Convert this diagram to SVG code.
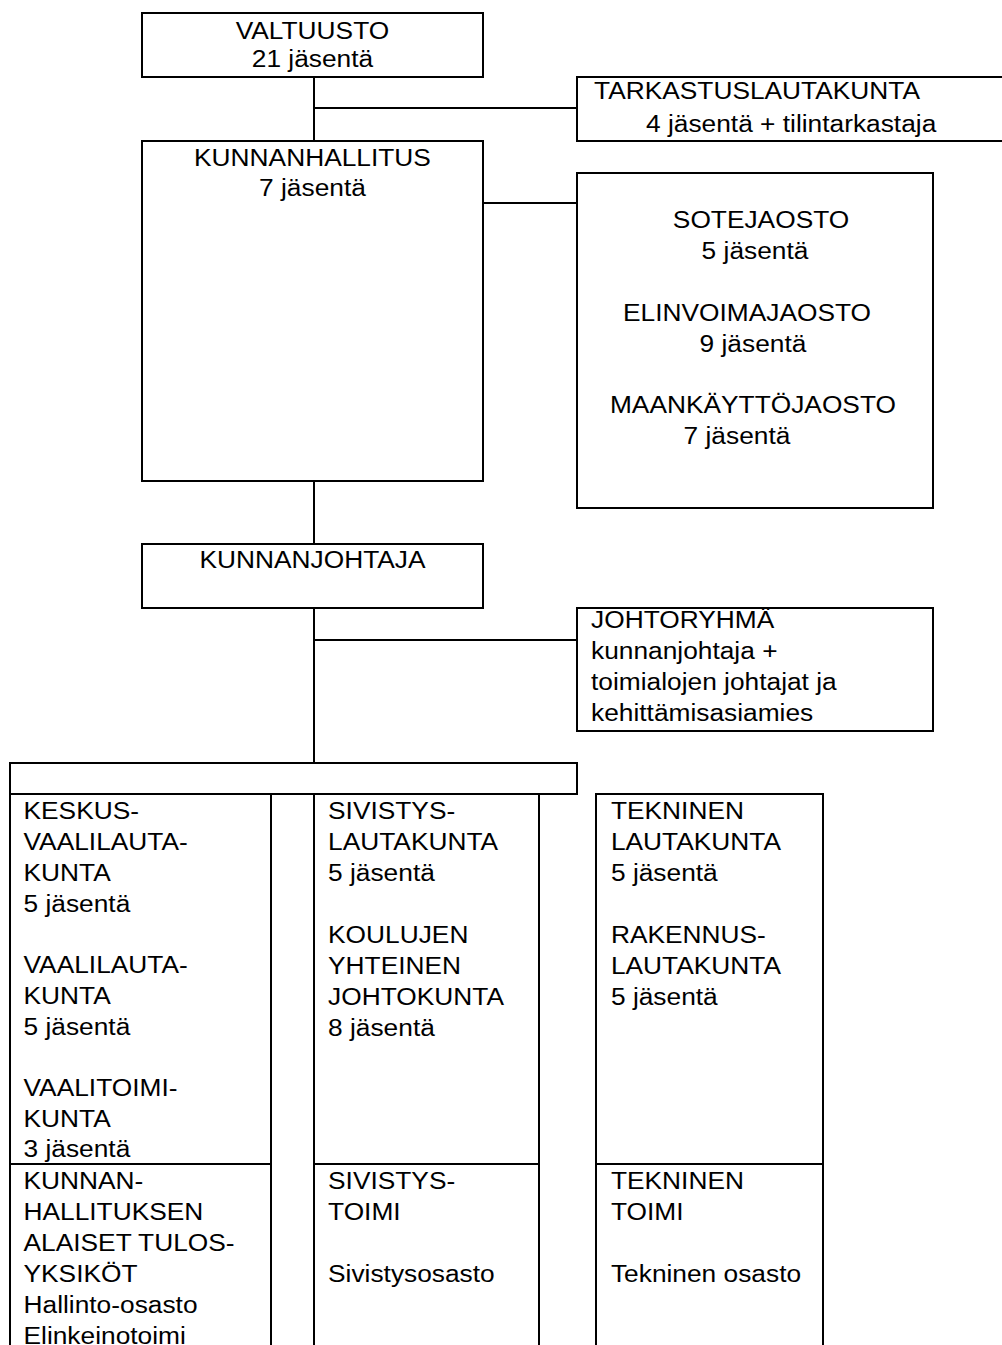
<svg xmlns="http://www.w3.org/2000/svg" width="1002" height="1345" viewBox="0 0 1002 1345">
<style>
.box{fill:#fff;stroke:#000;stroke-width:2}
.ln{fill:none;stroke:#000;stroke-width:2}
text{font-family:"Liberation Sans",Arial,sans-serif;font-size:23.5px;fill:#000}
.c{text-anchor:middle}
</style>
<rect width="1002" height="1345" fill="#fff"/>
<g id="connectors" class="ln">
<path d="M314 77V141M314 108H577M483 203H577M314 481V544M314 608V794M314 640H577"/>
</g>
<g id="valtuusto">
<rect class="box" x="142" y="13" width="341" height="64"/>
<g transform="scale(1.12 1)">
<text class="c" x="279" y="39">VALTUUSTO</text>
<text class="c" x="279" y="67">21 jäsentä</text>
</g>
</g>
<g id="tarkastuslautakunta">
<rect class="box" x="577" y="77" width="430" height="64"/>
<g transform="scale(1.12 1)">
<text x="530.4" y="99">TARKASTUSLAUTAKUNTA</text>
<text x="576.8" y="132">4 jäsentä + tilintarkastaja</text>
</g>
</g>
<g id="kunnanhallitus">
<rect class="box" x="142" y="141" width="341" height="340"/>
<g transform="scale(1.12 1)">
<text class="c" x="279" y="166">KUNNANHALLITUS</text>
<text class="c" x="279" y="196">7 jäsentä</text>
</g>
</g>
<g id="jaostot">
<rect class="box" x="577" y="173" width="356" height="335"/>
<g transform="scale(1.12 1)">
<text class="c" x="679.5" y="228">SOTEJAOSTO</text>
<text class="c" x="674.1" y="259">5 jäsentä</text>
<text class="c" x="667" y="321">ELINVOIMAJAOSTO</text>
<text class="c" x="672.3" y="352">9 jäsentä</text>
<text class="c" x="672.3" y="413">MAANKÄYTTÖJAOSTO</text>
<text class="c" x="658" y="444">7 jäsentä</text>
</g>
</g>
<g id="kunnanjohtaja">
<rect class="box" x="142" y="544" width="341" height="64"/>
<g transform="scale(1.12 1)">
<text class="c" x="279" y="568">KUNNANJOHTAJA</text>
</g>
</g>
<g id="johtoryhma">
<rect class="box" x="577" y="608" width="356" height="123"/>
<g transform="scale(1.12 1)">
<text x="527.7" y="628">JOHTORYHMÄ</text>
<text x="527.7" y="659">kunnanjohtaja +</text>
<text x="527.7" y="690">toimialojen johtajat ja</text>
<text x="527.7" y="721">kehittämisasiamies</text>
</g>
</g>
<g id="palkki">
<rect class="box" x="10" y="763" width="567" height="31"/>
</g>
<g id="vaalit">
<rect class="box" x="10" y="794" width="261" height="600"/>
<path class="ln" d="M10 1164H271"/>
<g transform="scale(1.12 1)">
<text x="21" y="819">KESKUS-</text>
<text x="21" y="850">VAALILAUTA-</text>
<text x="21" y="881">KUNTA</text>
<text x="21" y="912">5 jäsentä</text>
<text x="21" y="973">VAALILAUTA-</text>
<text x="21" y="1004">KUNTA</text>
<text x="21" y="1035">5 jäsentä</text>
<text x="21" y="1096">VAALITOIMI-</text>
<text x="21" y="1127">KUNTA</text>
<text x="21" y="1157">3 jäsentä</text>
<text x="21" y="1189">KUNNAN-</text>
<text x="21" y="1220">HALLITUKSEN</text>
<text x="21" y="1251">ALAISET TULOS-</text>
<text x="21" y="1282">YKSIKÖT</text>
<text x="21" y="1313">Hallinto-osasto</text>
<text x="21" y="1344">Elinkeinotoimi</text>
</g>
</g>
<g id="sivistys">
<rect class="box" x="314" y="794" width="225" height="600"/>
<path class="ln" d="M314 1164H539"/>
<g transform="scale(1.12 1)">
<text x="292.9" y="819">SIVISTYS-</text>
<text x="292.9" y="850">LAUTAKUNTA</text>
<text x="292.9" y="881">5 jäsentä</text>
<text x="292.9" y="943">KOULUJEN</text>
<text x="292.9" y="974">YHTEINEN</text>
<text x="292.9" y="1005">JOHTOKUNTA</text>
<text x="292.9" y="1036">8 jäsentä</text>
<text x="292.9" y="1189">SIVISTYS-</text>
<text x="292.9" y="1220">TOIMI</text>
<text x="292.9" y="1282">Sivistysosasto</text>
</g>
</g>
<g id="tekninen">
<rect class="box" x="596" y="794" width="227" height="600"/>
<path class="ln" d="M596 1164H823"/>
<g transform="scale(1.12 1)">
<text x="545.5" y="819">TEKNINEN</text>
<text x="545.5" y="850">LAUTAKUNTA</text>
<text x="545.5" y="881">5 jäsentä</text>
<text x="545.5" y="943">RAKENNUS-</text>
<text x="545.5" y="974">LAUTAKUNTA</text>
<text x="545.5" y="1005">5 jäsentä</text>
<text x="545.5" y="1189">TEKNINEN</text>
<text x="545.5" y="1220">TOIMI</text>
<text x="545.5" y="1282">Tekninen osasto</text>
</g>
</g>
</svg>
